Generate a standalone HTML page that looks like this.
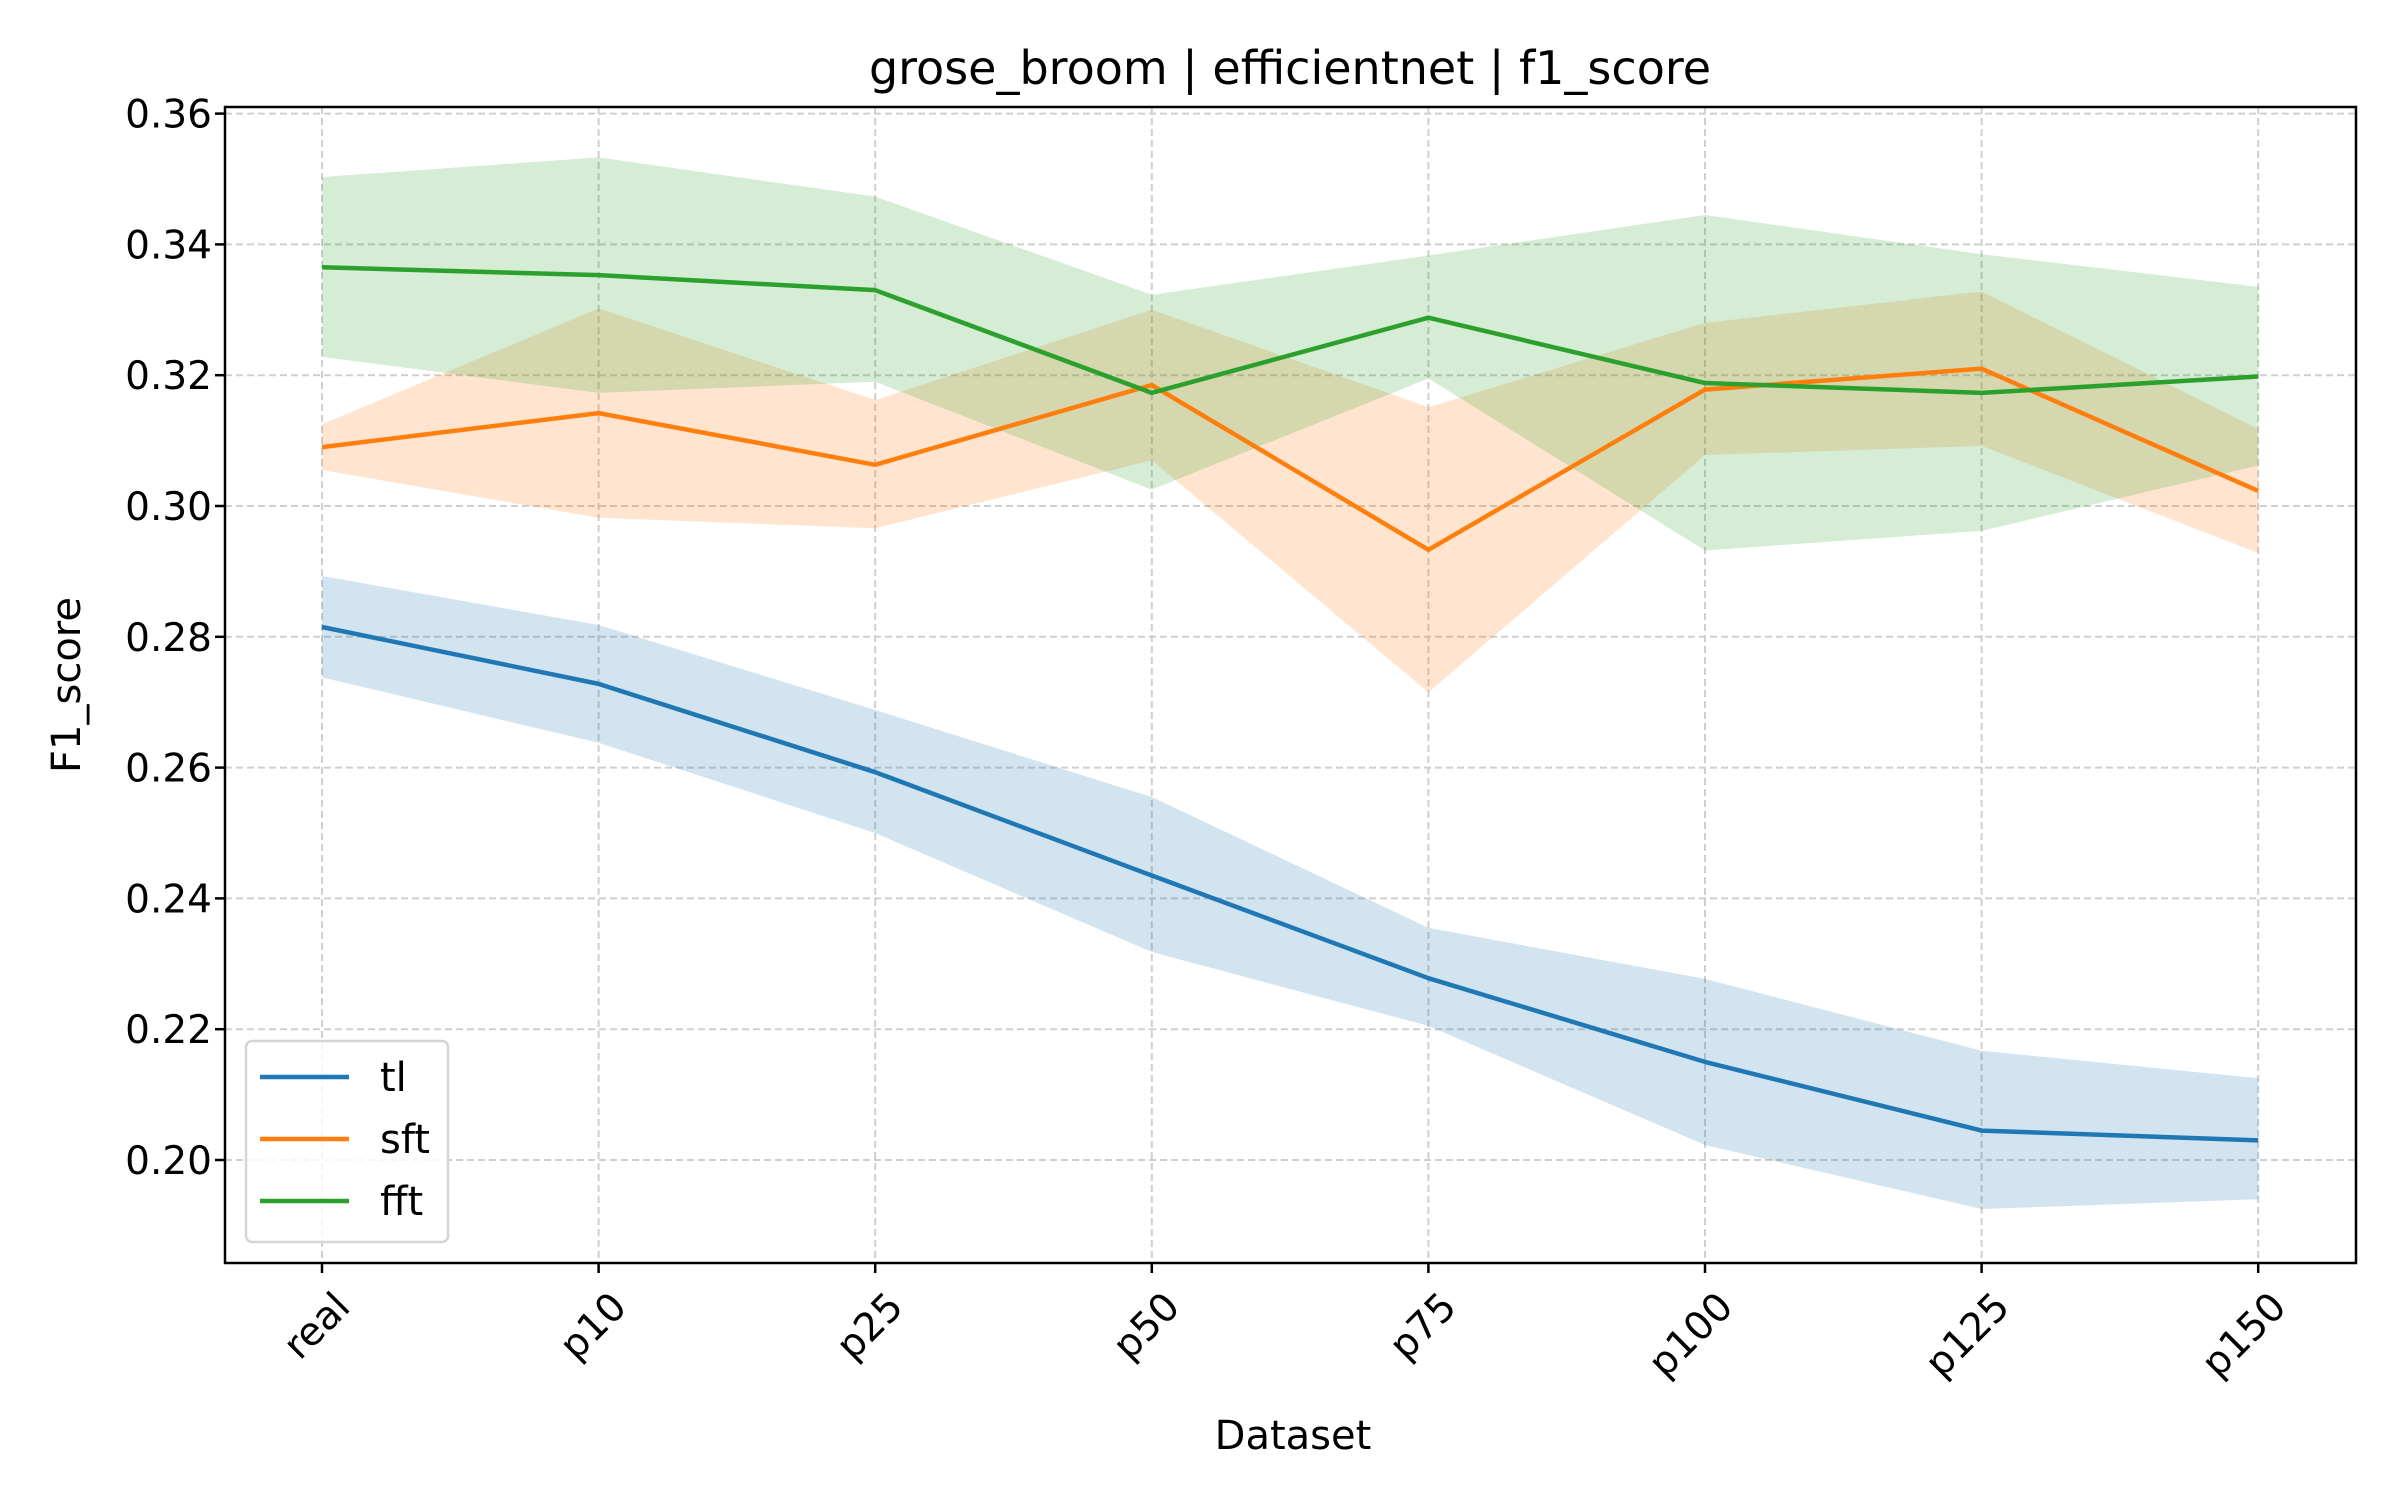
<!DOCTYPE html>
<html><head><meta charset="utf-8"><style>
html,body{margin:0;padding:0;background:#fff;}
svg text{font-family:"DejaVu Sans","Liberation Sans",sans-serif;fill:#000;}
</style></head><body>
<svg id="chart" width="2400" height="1500" viewBox="0 0 2400 1500" xmlns="http://www.w3.org/2000/svg">
<rect x="0" y="0" width="2400" height="1500" fill="#fff"/>
<g id="grid"></g>
<g id="bands"></g>
<g id="lines"></g>
<rect x="225" y="107" width="2131" height="1156" fill="none" stroke="#000" stroke-width="2.5"/>
<g id="axes"></g>
<text x="1290" y="84" font-size="46" text-anchor="middle">grose_broom | efficientnet | f1_score</text>
<text x="1293" y="1449" font-size="40" text-anchor="middle">Dataset</text>
<text transform="translate(80,685) rotate(-90)" font-size="40" text-anchor="middle">F1_score</text>
<g>
<rect x="246" y="1041" width="202" height="201" rx="6" fill="#fff" fill-opacity="0.8" stroke="#d5d5d5" stroke-width="2.5"/>
<line x1="260" y1="1077" x2="349" y2="1077" stroke="#1f77b4" stroke-width="4.5"/>
<text x="380" y="1091" font-size="40">tl</text>
<line x1="260" y1="1139" x2="349" y2="1139" stroke="#ff7f0e" stroke-width="4.5"/>
<text x="380" y="1153" font-size="40">sft</text>
<line x1="260" y1="1201" x2="349" y2="1201" stroke="#2ca02c" stroke-width="4.5"/>
<text x="380" y="1215" font-size="40">fft</text>
</g>
</svg>
<script>
const categories=["real","p10","p25","p50","p75","p100","p125","p150"];
const yTicks=[0.20,0.22,0.24,0.26,0.28,0.30,0.32,0.34,0.36];
const yTickLabels=["0.20","0.22","0.24","0.26","0.28","0.30","0.32","0.34","0.36"];
const tlMean=[0.2815,0.2728,0.2593,0.2435,0.2278,0.2150,0.2045,0.2030];
const tlLow=[0.2738,0.2638,0.2500,0.2318,0.2205,0.2023,0.1925,0.1940];
const tlHigh=[0.2893,0.2818,0.2688,0.2555,0.2355,0.2277,0.2167,0.2125];
const sftMean=[0.3090,0.3142,0.3063,0.3185,0.2933,0.3178,0.3210,0.3023];
const sftLow=[0.3055,0.2982,0.2966,0.3070,0.2715,0.3078,0.3092,0.2928];
const sftHigh=[0.3125,0.3302,0.3162,0.3300,0.3151,0.3280,0.3328,0.3118];
const fftMean=[0.3365,0.3353,0.3330,0.3173,0.3288,0.3188,0.3173,0.3198];
const fftLow=[0.3228,0.3173,0.3190,0.3025,0.3195,0.2932,0.2962,0.3062];
const fftHigh=[0.3503,0.3533,0.3473,0.3323,0.3383,0.3445,0.3385,0.3335];

const NS="http://www.w3.org/2000/svg";
const L=225,R=2356,T=107,B=1263;
function xPos(i){return 322+i*276.6;}
function yPos(v){return 1160-(v-0.20)*6540;}
function mk(tag,attrs,parent){const e=document.createElementNS(NS,tag);for(const k in attrs)e.setAttribute(k,attrs[k]);parent.appendChild(e);return e;}
const grid=document.getElementById('grid'),axes=document.getElementById('axes'),bands=document.getElementById('bands'),lines=document.getElementById('lines');
yTicks.forEach((v,i)=>{
  const y=yPos(v);
  const g=mk('line',{x1:L,x2:R,y1:y,y2:y,stroke:'#cfcfcf','stroke-width':2,'stroke-dasharray':'7,4'},grid);
  
  
  const t=mk('line',{x1:L-10,x2:L,y1:y,y2:y,stroke:'#000','stroke-width':2.5},axes);
  
  
  const tx=mk('text',{x:L-13,y:y+14,'font-size':39,'text-anchor':'end'},axes);
  tx.textContent=yTickLabels[i];
  
  
});
categories.forEach((c,i)=>{
  const x=xPos(i);
  const g=mk('line',{x1:x,x2:x,y1:T,y2:B,stroke:'#cfcfcf','stroke-width':2,'stroke-dasharray':'7,4'},grid);
  
  
  const t=mk('line',{x1:x,x2:x,y1:B,y2:B+10,stroke:'#000','stroke-width':2.5},axes);
  
  
  const tx=mk('text',{transform:`translate(${x+30},${B+46}) rotate(-45)`,'font-size':39,'text-anchor':'end'},axes);
  tx.textContent=c;
  
  
});
function band(lo,hi,color,name){
  let pts=lo.map((v,i)=>xPos(i)+','+yPos(v));
  pts=pts.concat(hi.map((v,i)=>xPos(i)+','+yPos(v)).reverse());
  const p=mk('polygon',{points:pts.join(' '),fill:color,'fill-opacity':0.2},bands);
  
  
}
function line(vals,color,name){
  const p=mk('polyline',{points:vals.map((v,i)=>xPos(i)+','+yPos(v)).join(' '),fill:'none',stroke:color,'stroke-width':4.5,'stroke-linejoin':'round'},lines);
  
  
}
band(tlLow,tlHigh,'#1f77b4','tl-band');
band(sftLow,sftHigh,'#ff7f0e','sft-band');
band(fftLow,fftHigh,'#2ca02c','fft-band');
line(tlMean,'#1f77b4','tl-line');
line(sftMean,'#ff7f0e','sft-line');
line(fftMean,'#2ca02c','fft-line');
</script>
</body></html>
